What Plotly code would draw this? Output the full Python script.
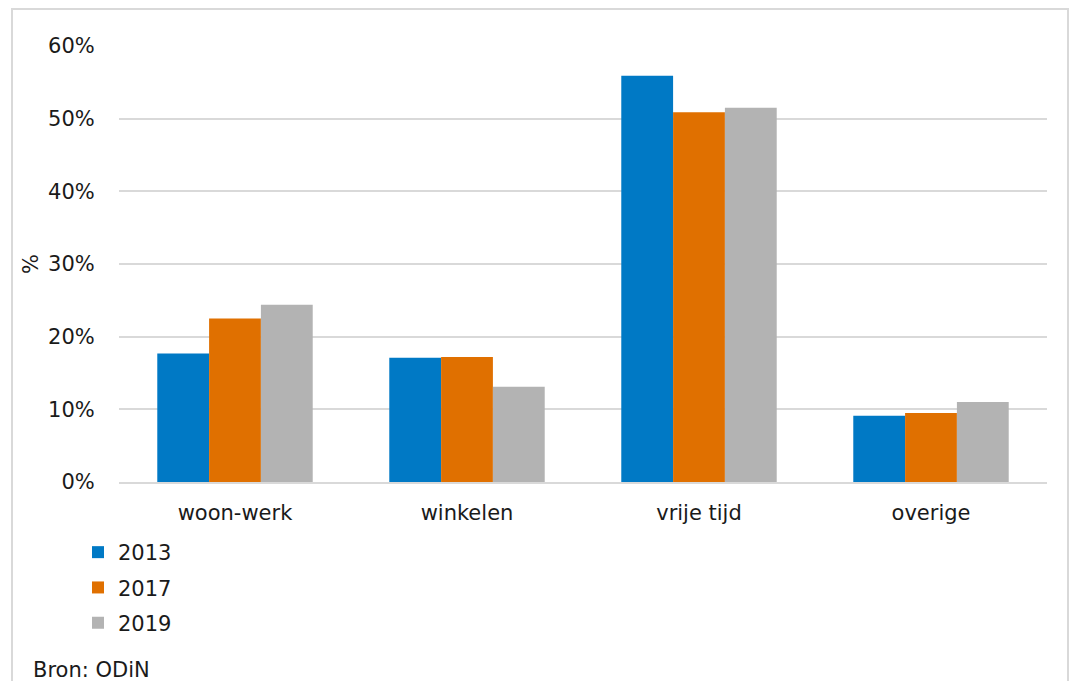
import plotly.graph_objects as go

categories = ["woon-werk", "winkelen", "vrije tijd", "overige"]
years = ["2013", "2017", "2019"]
v2013 = [17.7, 17.1, 55.9, 9.1]
v2017 = [22.5, 17.2, 50.9, 9.5]
v2019 = [24.4, 13.1, 51.5, 11.0]
colors = ["#0079C5", "#E07000", "#B3B3B3"]
tick_vals = [0, 10, 20, 30, 40, 50, 60]
tick_text = ["0%", "10%", "20%", "30%", "40%", "50%", "60%"]

W, H = 1072, 681
L, R, T, B = 119, 25, 46, 199
pw, ph = W - L - R, H - T - B

def px(x):
    return (x - L) / pw

def py(y):
    return (H - B - y) / ph

fig = go.Figure()
for name, vals, col in zip(years, [v2013, v2017, v2019], colors):
    fig.add_trace(go.Bar(x=categories, y=vals, name=name, marker_color=col,
                         marker_line_width=0, legendgroup=name))

FS = 21
font = dict(family="DejaVu Sans, Verdana, sans-serif", size=FS, color="#1a1a1a")

fig.update_layout(
    width=W, height=H,
    margin=dict(l=L, r=R, t=T, b=B),
    paper_bgcolor="white", plot_bgcolor="white",
    font=font,
    bargap=0.33, bargroupgap=0,
    showlegend=True,
    legend=dict(orientation="v", x=px(78), y=py(532), xanchor="left", yanchor="top",
                font=dict(size=FS), tracegroupgap=5, itemwidth=30,
                bgcolor="rgba(0,0,0,0)"),
    xaxis=dict(showgrid=False, showline=True, linecolor="#d9d9d9", linewidth=2,
               ticks="outside", ticklen=11, tickcolor="rgba(0,0,0,0)",
               tickfont=dict(size=FS)),
    yaxis=dict(range=[0, 60], tickvals=tick_vals, ticktext=tick_text,
               showgrid=True, gridcolor="#d9d9d9", gridwidth=2,
               zeroline=False, showline=False,
               ticks="outside", ticklen=19, tickcolor="rgba(0,0,0,0)",
               tickfont=dict(size=FS),
               title=dict(text="%", standoff=3, font=dict(size=FS))),
)

fig.add_shape(type="rect", xref="paper", yref="paper",
              x0=px(12), x1=px(1068), y0=py(700), y1=py(9),
              line=dict(color="#d9d9d9", width=2), fillcolor="rgba(0,0,0,0)", layer="below")

fig.add_annotation(text="Bron: ODiN", xref="paper", yref="paper",
                   x=px(31), y=py(670), xanchor="left", yanchor="middle",
                   showarrow=False, font=dict(size=FS))

fig.write_html("out.html")
